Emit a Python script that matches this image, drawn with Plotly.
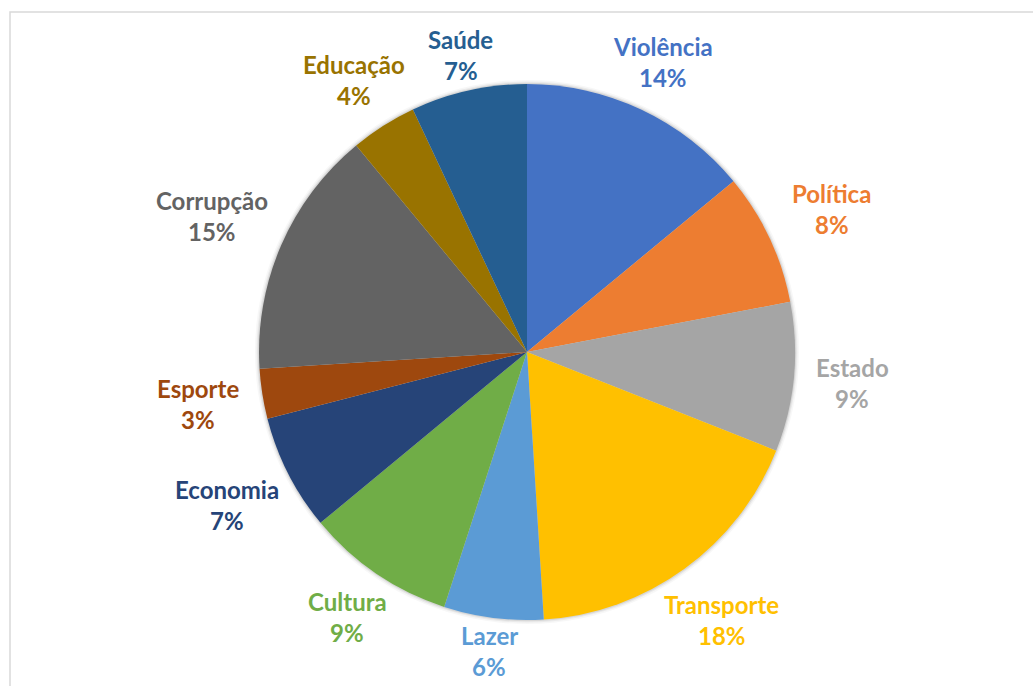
import numpy as np
import plotly.graph_objects as go

# Temas citados (%), in clockwise order starting at 12 o'clock
categorias = ["Violência", "Política", "Estado", "Transporte", "Lazer", "Cultura",
              "Economia", "Esporte", "Corrupção", "Educação", "Saúde"]
valores = [14, 8, 9, 18, 6, 9, 7, 3, 15, 4, 7]
cores = ["#4472C4", "#ED7D31", "#A5A5A5", "#FFC000", "#5B9BD5", "#70AD47",
         "#264478", "#9E480E", "#636363", "#997300", "#255E91"]

W, H = 1033, 686
CX, CY, R = 527, 352, 268          # pie centre / radius in pixels
FONT = "Lato"
FS = 24
GAP = 22                            # space between pie edge and label box
LINE = 31                           # distance between the two label lines
HALF_H = 8                          # effective half height of a label block


def domain(radius):
    return dict(x=[(CX - radius) / W, (CX + radius) / W],
                y=[1 - (CY + radius) / H, 1 - (CY - radius) / H])


fig = go.Figure()

# soft drop shadow around the pie
for extra, alpha in ((4, 0.03), (2.5, 0.05), (1.2, 0.08)):
    fig.add_trace(go.Pie(
        values=[1], labels=[""], sort=False, textinfo="none", hoverinfo="skip",
        marker=dict(colors=[f"rgba(0,0,0,{alpha})"], line=dict(width=0)),
        showlegend=False, domain=domain(R + extra),
    ))

fig.add_trace(go.Pie(
    labels=categorias,
    values=valores,
    sort=False,
    direction="clockwise",
    rotation=0,
    marker=dict(colors=cores, line=dict(width=0)),
    textinfo="none",
    hoverinfo="label+percent",
    showlegend=False,
    domain=domain(R),
))

# outside labels: name + percentage, placed radially at each slice's mid-angle
v = np.array(valores, dtype=float)
total = v.sum()
mid = (np.cumsum(v) - v / 2) / total
theta = 2 * np.pi * mid
annotations = []
for nome, val, cor, th in zip(categorias, v, cores, theta):
    pct = f"{round(100 * val / total):.0f}%"
    w = 0.5 * FS * len(nome)
    d = R + GAP + (w / 2) * abs(np.sin(th)) + HALF_H * abs(np.cos(th))
    lx = CX + d * np.sin(th)
    ly = CY - d * np.cos(th)
    for txt, dy in ((nome, -LINE / 2), (pct, LINE / 2)):
        annotations.append(dict(
            x=lx / W, y=1 - (ly + dy) / H, xref="paper", yref="paper",
            text=txt, showarrow=False, xanchor="center", yanchor="middle",
            borderpad=0,
            font=dict(family=FONT, size=FS, color=cor, weight="bold"),
        ))

fig.update_layout(
    width=W, height=H,
    margin=dict(l=0, r=0, t=0, b=0),
    paper_bgcolor="white",
    plot_bgcolor="white",
    annotations=annotations,
    shapes=[dict(type="rect", xref="paper", yref="paper",
                 x0=10 / W, x1=1.05, y0=-0.05, y1=1 - 12 / H,
                 line=dict(color="#d9d9d9", width=1.5), fillcolor="rgba(0,0,0,0)",
                 layer="below")],
)

fig.write_html("out.html")
